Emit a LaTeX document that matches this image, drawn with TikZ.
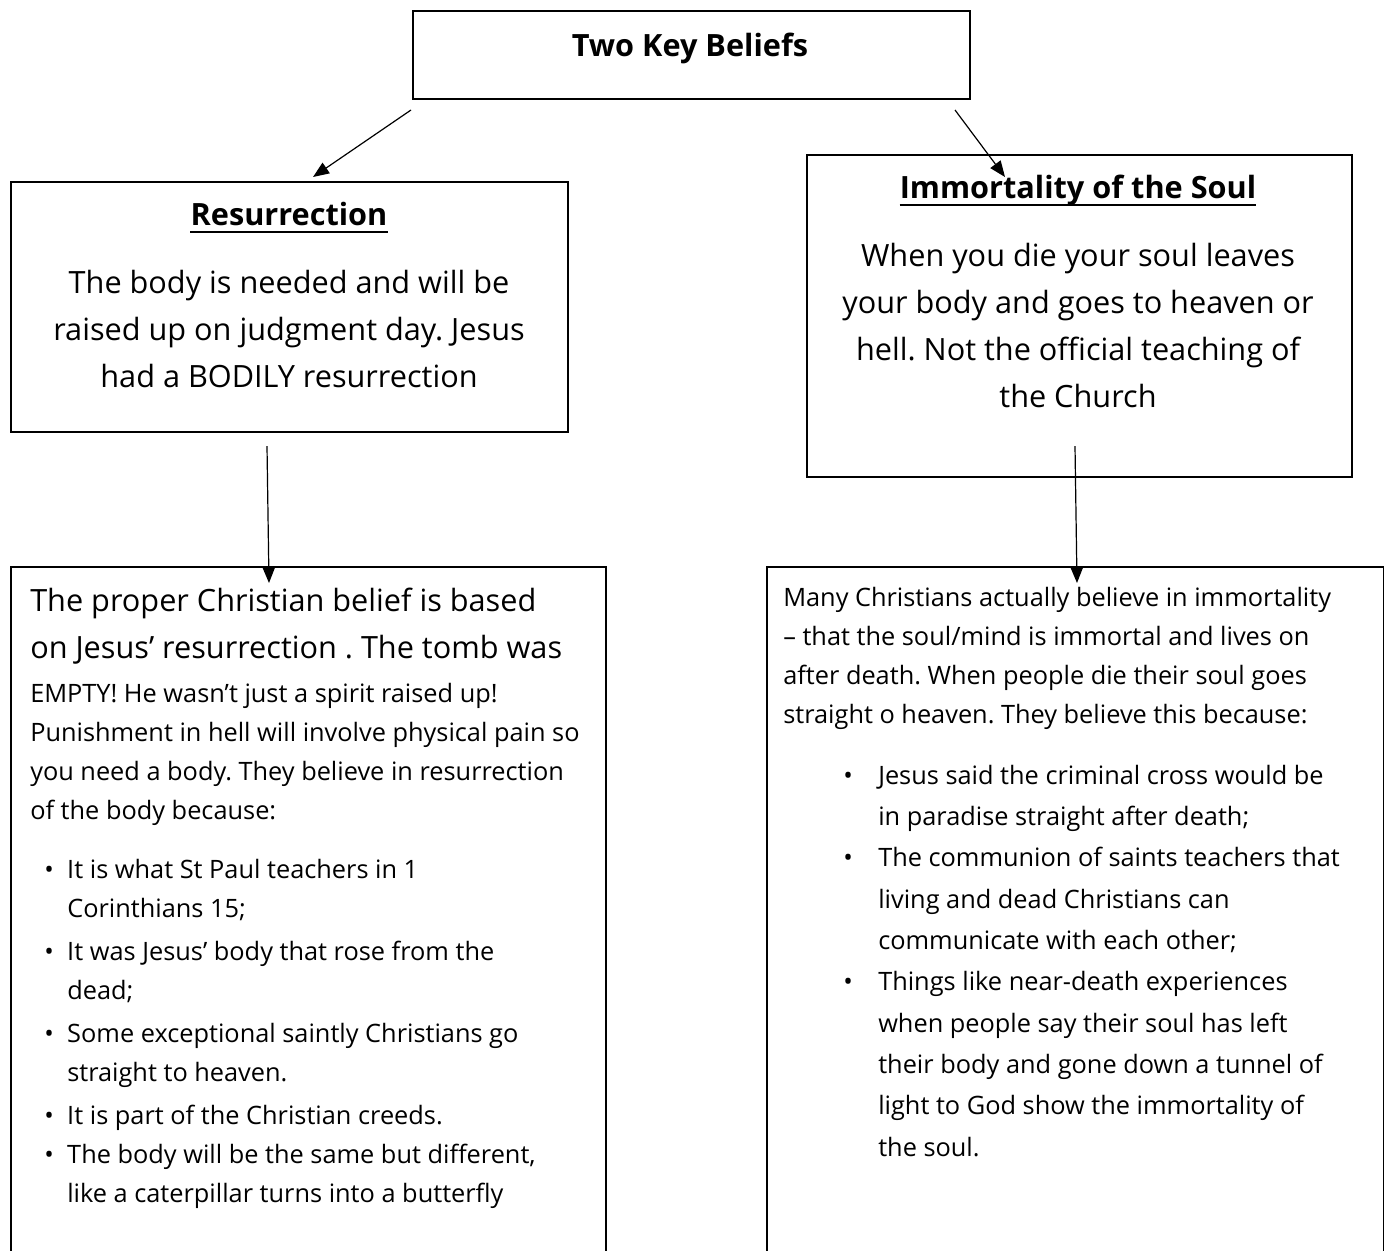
\documentclass[tikz,border=0pt]{standalone}
\usepackage{fontspec}
\setmainfont{Open Sans}
\usetikzlibrary{arrows.meta}
\frenchspacing
% bullet with indent, and indent of a continued line
\newcommand{\bl}[2]{\hspace*{#1}\makebox[#2][l]{\textbullet}}
\newcommand{\ind}[1]{\hspace*{#1}}
% text blocks hang from the baseline of their first line
\newcommand{\cblock}[1]{\parbox[t]{430pt}{\centering #1}}
\newcommand{\lblock}[1]{\parbox[t]{450pt}{\raggedright #1}}

\begin{document}
\begin{tikzpicture}[x=0.75pt,y=-0.75pt,
  box/.style={draw, line width=1.5pt, anchor=north west, inner sep=0pt},
  link/.style={-{Triangle[length=12pt,width=9.5pt]}, line width=0.9pt},
  head/.style={font=\fontsize{23}{27}\selectfont\bfseries, anchor=base, inner sep=0pt},
  big/.style={font=\fontsize{23}{35.25}\selectfont, anchor=base, inner sep=0pt},
  small/.style={font=\fontsize{19}{29.25}\selectfont, anchor=base west, inner sep=0pt}]
\useasboundingbox (0,0) rectangle (1384,1250);

% boxes
\node[box, minimum width=557*0.75pt, minimum height=88*0.75pt] (beliefs) at (412,10) {};
\node[box, minimum width=557*0.75pt, minimum height=250*0.75pt] (res) at (10,181) {};
\node[box, minimum width=545*0.75pt, minimum height=322*0.75pt] (imm) at (806,154) {};
\node[box, minimum width=595*0.75pt, minimum height=720*0.75pt] (proper) at (10,566) {};
\node[box, minimum width=617*0.75pt, minimum height=720*0.75pt] (many) at (766,566) {};

% titles
\node[head] (title) at (690,56) {Two Key Beliefs};
\node[head] (reshead) at (289,225) {Resurrection};
\node[head] (immhead) at (1078,198) {Immortality of the Soul};
\draw[line width=1.5pt] ([yshift=-5pt]reshead.base west) -- ([yshift=-5pt]reshead.base east);
\draw[line width=1.5pt] ([yshift=-5pt]immhead.base west) -- ([yshift=-5pt]immhead.base east);

\node[big] (restext) at (289,293) {\cblock{The body is needed and will be\\
  raised up on judgment day. Jesus\\
  had a BODILY resurrection}};
\node[big] (immtext) at (1078,266) {\cblock{When you die your soul leaves\\
  your body and goes to heaven or\\
  hell. Not the official teaching of\\
  the Church}};

% left column
\node[big, anchor=base west] (proptop) at (30,611) {\lblock{The proper Christian belief is based\\
  on Jesus’ resurrection . The tomb was}};
\node[small] (proptext) at (30,702) {\lblock{EMPTY! He wasn't just a spirit raised up!\\
  Punishment in hell will involve physical pain so\\
  you need a body. They believe in resurrection\\
  of the body because:\\[15pt]
  \bl{10.5pt}{17.25pt}It is what St Paul teachers in 1\\
  \ind{27.75pt}Corinthians 15;\\[3pt]
  \bl{10.5pt}{17.25pt}It was Jesus’ body that rose from the\\
  \ind{27.75pt}dead;\\[3pt]
  \bl{10.5pt}{17.25pt}Some exceptional saintly Christians go\\
  \ind{27.75pt}straight to heaven.\\[3pt]
  \bl{10.5pt}{17.25pt}It is part of the Christian creeds.\\
  \bl{10.5pt}{17.25pt}The body will be the same but different,\\
  \ind{27.75pt}like a caterpillar turns into a butterfly}};

% right column
\node[small] (manytext) at (783,606) {\lblock{Many Christians actually believe in immortality\\
  – that the soul/mind is immortal and lives on\\
  after death. When people die their soul goes\\
  straight o heaven. They believe this because:}};
\node[small, font=\fontsize{19}{31}\selectfont] (manylist) at (783,784) {\lblock{\bl{45pt}{26.25pt}Jesus said the criminal cross would be\\
  \ind{71.25pt}in paradise straight after death;\\
  \bl{45pt}{26.25pt}The communion of saints teachers that\\
  \ind{71.25pt}living and dead Christians can\\
  \ind{71.25pt}communicate with each other;\\
  \bl{45pt}{26.25pt}Things like near-death experiences\\
  \ind{71.25pt}when people say their soul has left\\
  \ind{71.25pt}their body and gone down a tunnel of\\
  \ind{71.25pt}light to God show the immortality of\\
  \ind{71.25pt}the soul.}};

% arrows
\draw[link] ([shift={(-1,10)}]beliefs.south west) -- ([shift={(303,-4)}]res.north west);
\draw[link] ([shift={(-16,10)}]beliefs.south east) -- ([shift={(199,23)}]imm.north west);
\draw[link] ([shift={(257,13)}]res.south west) -- ([shift={(259,17)}]proper.north west);
\draw[link] ([shift={(269,-32)}]imm.south west) -- ([shift={(311,17)}]many.north west);
\end{tikzpicture}
\end{document}
